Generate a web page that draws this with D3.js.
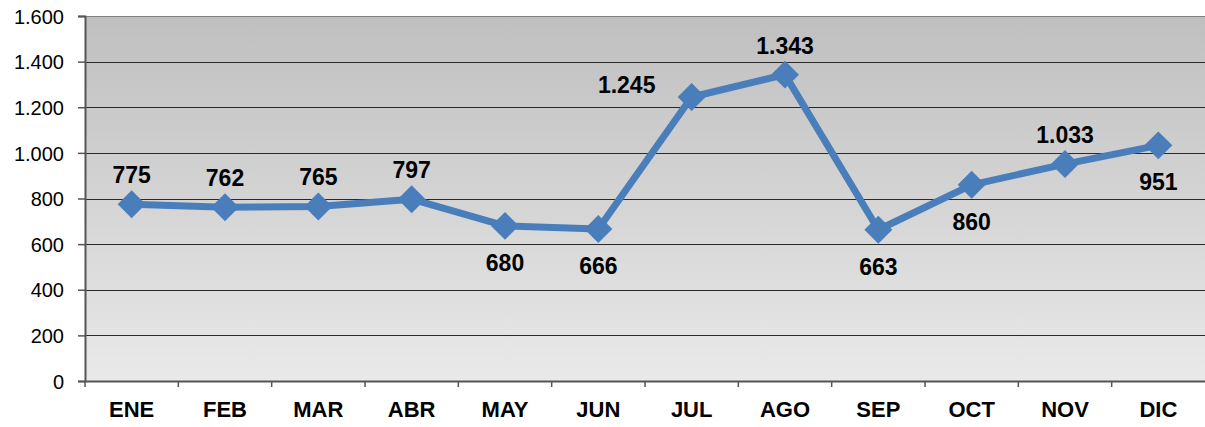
<!DOCTYPE html>
<meta charset="utf-8">
<style>
body { margin: 0; background: #fff; }
text { font-family: "Liberation Sans", Arial, sans-serif; }
</style>
<body>
<script src="https://d3js.org/d3.v7.min.js"></script>
<script>

let width = 1205;
let height = 427;

let months = ["ENE", "FEB", "MAR", "ABR", "MAY", "JUN", "JUL", "AGO", "SEP", "OCT", "NOV", "DIC"];
let values = [775, 762, 765, 797, 680, 666, 1245, 1343, 663, 860, 951, 1033];
let labels = ["775", "762", "765", "797", "680", "666", "1.245", "1.343", "663", "860", "1.033", "951"];
let labelPos = ["above", "above", "above", "above", "below", "below", "left", "above", "below", "below", "above", "below"];
let yTicks = [0, 200, 400, 600, 800, 1000, 1200, 1400, 1600];

let margin = {top: 16, right: 0, bottom: 46, left: 85};
let plotW = width - margin.left - margin.right;
let plotH = height - margin.top - margin.bottom;

let svg = d3.select("body").append("svg")
    .attr("width", width)
    .attr("height", height);

let defs = svg.append("defs");
let grad = defs.append("linearGradient")
    .attr("id", "bg")
    .attr("x1", 0).attr("y1", 0).attr("x2", 0).attr("y2", 1);
grad.append("stop").attr("offset", "0%").attr("stop-color", "#bfbfbf");
grad.append("stop").attr("offset", "100%").attr("stop-color", "#e9e9e9");

let g = svg.append("g").attr("transform", `translate(${margin.left},${margin.top})`);

let x = d3.scaleBand().domain(months).range([0, plotW]);
let y = d3.scaleLinear().domain([0, 1600]).range([plotH, 0]);

g.append("rect")
    .attr("width", plotW)
    .attr("height", plotH)
    .attr("fill", "url(#bg)");

// gridlines
g.selectAll(".grid")
  .data(yTicks.slice(1))
  .enter().append("line")
    .attr("x1", 0).attr("x2", plotW)
    .attr("y1", d => Math.round(y(d)) + 0.5)
    .attr("y2", d => Math.round(y(d)) + 0.5)
    .attr("stroke", d => d == 1600 ? "#808080" : "#2a2a2a")
    .attr("stroke-width", 1);

// y axis
let yAxis = g.append("g")
    .call(d3.axisLeft(y).tickValues(yTicks).tickSize(7).tickPadding(14)
      .tickFormat(d => d3.format(",")(d).replace(/,/g, ".")));
yAxis.select(".domain").attr("stroke", "#555").attr("stroke-width", 2);
yAxis.selectAll(".tick line").attr("stroke", "#555").attr("stroke-width", 1.5);
yAxis.selectAll("text")
    .attr("font-size", 20)
    .attr("font-family", "Liberation Sans, Arial, sans-serif")
    .attr("fill", "#000")
    .attr("dy", "0.36em");

// x axis
let xAxis = g.append("g")
    .attr("transform", `translate(0,${plotH})`)
    .call(d3.axisBottom(x).tickSize(0).tickPadding(0));
xAxis.select(".domain").attr("stroke", "#555").attr("stroke-width", 2);
xAxis.selectAll("text")
    .attr("font-size", 22)
    .attr("font-weight", "bold")
    .attr("font-family", "Liberation Sans, Arial, sans-serif")
    .attr("fill", "#000")
    .attr("dy", 0)
    .attr("y", 36);

// category separator ticks
g.selectAll(".xtick")
  .data(months)
  .enter().append("line")
    .attr("x1", d => x(d))
    .attr("x2", d => x(d))
    .attr("y1", plotH)
    .attr("y2", plotH + 6)
    .attr("stroke", "#555")
    .attr("stroke-width", 1.5);

let cx = d => x(d) + x.bandwidth() / 2;

let line = d3.line()
    .x((d, i) => cx(months[i]))
    .y(d => y(d));

g.append("path")
    .datum(values)
    .attr("d", line)
    .attr("fill", "none")
    .attr("stroke", "#4a7ebb")
    .attr("stroke-width", 7)
    .attr("stroke-linejoin", "round");

g.selectAll(".marker")
  .data(values)
  .enter().append("path")
    .attr("d", d3.symbol().type(d3.symbolSquare).size(390))
    .attr("transform", (d, i) => `translate(${cx(months[i])},${y(d)}) rotate(45)`)
    .attr("fill", "#4a7ebb");

g.selectAll(".label")
  .data(values)
  .enter().append("text")
    .attr("x", (d, i) => cx(months[i]) + (labelPos[i] == "left" ? -65 : 0))
    .attr("y", (d, i) => {
      if (labelPos[i] == "above") return y(d) - 21;
      if (labelPos[i] == "below") return y(d) + 45;
      return y(d) - 4;
    })
    .attr("text-anchor", "middle")
    .attr("font-size", 23)
    .attr("font-weight", "bold")
    .attr("fill", "#000")
    .text((d, i) => labels[i]);

</script>
